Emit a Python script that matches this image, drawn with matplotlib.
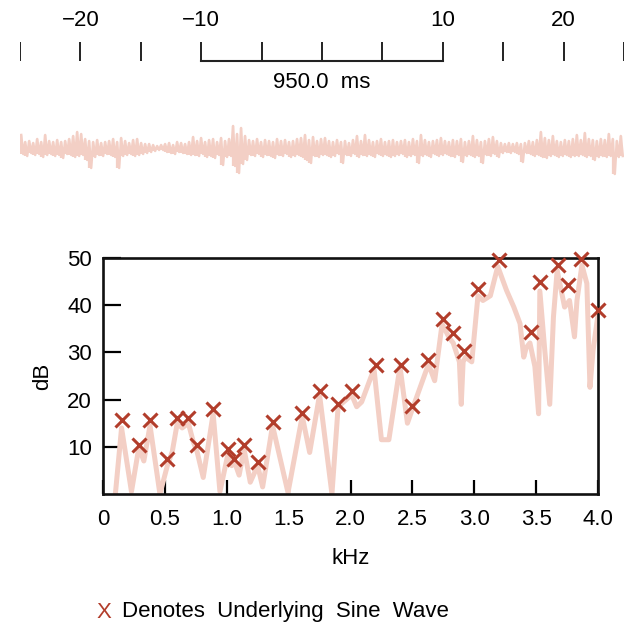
import matplotlib
matplotlib.use("Agg")
import matplotlib.pyplot as plt
import numpy as np

plt.rcParams['font.family'] = ['Liberation Sans', 'DejaVu Sans']

# ---- data ----
# top time scale (ms)
scale_ticks = [-25, -20, -15, -10, -5, 0, 5, 10, 15, 20, 25]
scale_labels = {-20: "\u221220", -10: "\u221210", 10: "10", 20: "20"}
bracket_ms = [-10, 10]
bracket_label = "950.0  ms"

# waveform extremes (pixel-like amplitude units), read segment by segment
wave_up = [13,6,7,5,9,6,13,7,6,8,6,7,9,12,16,14,9,7,6,8,5,6,7,9,6,10,7,5,8,9,5,4,4,
           3,2,3,
           4,5,3,6,5,4,6,
           11,7,10,6,8,9,6,10,7,9,
           22,14,20,12,
           8,7,9,6,8,7,6,9,7,8,6,7,9,10,13,8,11,7,9,
           10,7,6,8,6,7,5,8,12,7,
           13,8,6,7,9,6,7,8,6,7,
           8,6,9,7,13,8,6,7,8,10,
           7,6,8,7,9,6,7,12,8,6,
           7,9,11,7,5,4,5,4,5,4,
           5,7,6,8,16,10,8,12,7,6,
           8,7,9,13,8,15,9,8,7,9,
           8,14,9,7,12]
wave_dn = [6,8,5,7,6,9,7,6,8,7,10,6,7,9,8,7,12,20,9,7,8,6,7,9,20,8,7,6,8,7,6,5,4,
           3,2,2,
           4,5,6,4,5,6,7,
           7,8,6,9,8,10,7,17,9,8,
           18,25,16,12,
           7,8,6,9,7,8,10,7,8,6,9,8,7,9,12,15,8,9,7,
           7,9,8,6,15,7,8,6,9,7,
           8,7,9,6,8,7,9,8,7,6,
           9,8,7,15,8,7,9,6,8,7,
           6,8,9,7,14,8,7,9,8,15,
           7,8,6,9,5,4,5,4,6,14,
           5,6,8,7,9,10,8,7,9,8,
           7,9,8,8,7,9,8,12,9,8,
           9,8,26,9,8]

# spectrum curve
spec_khz = [0.10, 0.15, 0.23, 0.29, 0.33, 0.38, 0.46, 0.52, 0.56, 0.60, 0.64, 0.69, 0.73, 0.76,
            0.81, 0.89, 0.945, 1.01, 1.04, 1.06, 1.10, 1.14, 1.19, 1.25, 1.29, 1.37, 1.495,
            1.61, 1.67, 1.75, 1.85, 1.90, 2.01, 2.05, 2.09, 2.19, 2.25, 2.31, 2.40, 2.46, 2.50,
            2.63, 2.68, 2.74, 2.80, 2.83, 2.88, 2.895, 2.91, 2.93, 2.98, 3.03, 3.07, 3.13, 3.19,
            3.26, 3.32, 3.37, 3.40, 3.42, 3.45, 3.49, 3.52, 3.53, 3.57, 3.61, 3.64, 3.67, 3.73,
            3.77, 3.81, 3.83, 3.87, 3.91, 3.935, 3.96, 4.00]
spec_db = [0, 14, 0.5, 9.9, 7, 14.5, 0, 6, 9, 15, 14, 15, 11, 9,
           3.5, 17, 0.5, 8.5, 6, 7, 4, 9.5, 2.5, 6, 1.5, 14.5, 0.3,
           16.5, 8.8, 21, 0, 18.5, 21, 18.5, 19.5, 26.5, 11.5, 11.5, 27, 15, 18,
           27.5, 24, 36, 33, 32, 28, 19, 28, 29, 28, 42, 41, 42, 48.2,
           43.2, 39.6, 36.1, 29, 31, 32, 27, 17, 43, 30.4, 19, 37.5, 47.4, 39.6,
           41, 33.3, 41, 48.5, 44.6, 22.6, 30.4, 38]

# underlying sine wave markers
mark_khz = [0.15, 0.29, 0.38, 0.52, 0.60, 0.69, 0.76, 0.89, 1.01, 1.06, 1.14, 1.25, 1.37,
            1.61, 1.75, 1.90, 2.01, 2.21, 2.41, 2.50, 2.63, 2.75, 2.83, 2.92, 3.03, 3.20,
            3.46, 3.53, 3.68, 3.76, 3.86, 4.00]
mark_db = [15.7, 10.4, 15.7, 7.4, 16.2, 16.2, 10.4, 18.0, 9.5, 7.4, 10.4, 6.7, 15.2,
           17.2, 21.9, 19.1, 21.9, 27.4, 27.4, 18.7, 28.4, 37.0, 34.1, 30.3, 43.5, 49.6,
           34.3, 45.0, 48.5, 44.3, 49.8, 38.9]

xtick_vals = [0, 0.5, 1.0, 1.5, 2.0, 2.5, 3.0, 3.5, 4.0]
xtick_labels = ["0", "0.5", "1.0", "1.5", "2.0", "2.5", "3.0", "3.5", "4.0"]
ytick_vals = [10, 20, 30, 40, 50]

# ---- figure ----
W, H = 633, 626
fig = plt.figure(figsize=(W / 100, H / 100), dpi=100)
fig.patch.set_facecolor("white")

def fx(px):
    return px / W

def fy(py):
    return 1 - py / H

pink = "#f3cfc5"
red = "#b23d2b"
FS = 16

# top scale axes (y in pixel units, downward)
ax_s = fig.add_axes([fx(20), fy(100), fx(604), 100 / H])
ax_s.set_xlim(-25, 25)
ax_s.set_ylim(100, 0)
ax_s.axis("off")
for t in scale_ticks:
    ax_s.plot([t, t], [42, 61], color="#222222", lw=1.4, solid_capstyle="butt")
ax_s.plot(bracket_ms, [61, 61], color="#222222", lw=1.5)
for t, lab in scale_labels.items():
    ax_s.text(t, 21, lab, ha="center", va="center", fontsize=FS)
ax_s.text(np.mean(bracket_ms), 82, bracket_label, ha="center", va="center", fontsize=FS)

# waveform axes
ax_w = fig.add_axes([fx(20), fy(178), fx(604), 60 / H])
ax_w.set_xlim(-25, 25)
ax_w.set_ylim(-30, 30)
ax_w.axis("off")
wave = []
for u, d in zip(wave_up, wave_dn):
    wave.append(u)
    wave.append(-d)
t_wave = np.linspace(-24.9, 24.9, len(wave))
t_pair = t_wave[0::2]
ax_w.vlines(t_pair, -np.array(wave_dn), np.array(wave_up), color=pink, lw=1.6)
ax_w.plot(t_wave, wave, color=pink, lw=1.8)

# spectrum axes
ax = fig.add_axes([fx(103), fy(494), fx(495), 236 / H])
ax.set_xlim(0, 4.0)
ax.set_ylim(0, 50)
ax.plot(spec_khz, spec_db, color=pink, lw=3.6, solid_joinstyle="round",
        solid_capstyle="round", zorder=2)
ax.plot(mark_khz, mark_db, linestyle="none", marker="x", markersize=10, mew=2.2,
        color=red, zorder=3, clip_on=False)
for s in ax.spines.values():
    s.set_linewidth(1.9)
    s.set_color("#111111")
ax.set_xticks(xtick_vals)
ax.set_xticklabels(xtick_labels, fontsize=FS)
ax.set_yticks(ytick_vals)
ax.set_yticklabels([str(v) for v in ytick_vals], fontsize=FS)
ax.tick_params(axis="x", direction="in", length=10, width=1.6, pad=11)
ax.tick_params(axis="y", direction="in", length=13, width=1.6, pad=8)
ax.set_xlabel("kHz", fontsize=FS, labelpad=13)
ax.set_ylabel("dB", fontsize=FS, labelpad=10)

# legend note
fig.text(fx(96), fy(612), "X", color=red, fontsize=FS, ha="left", va="center")
fig.text(fx(122), fy(612), "Denotes  Underlying  Sine  Wave", color="black", fontsize=FS,
         ha="left", va="center")

fig.savefig("out.png", dpi=100, facecolor="white")
